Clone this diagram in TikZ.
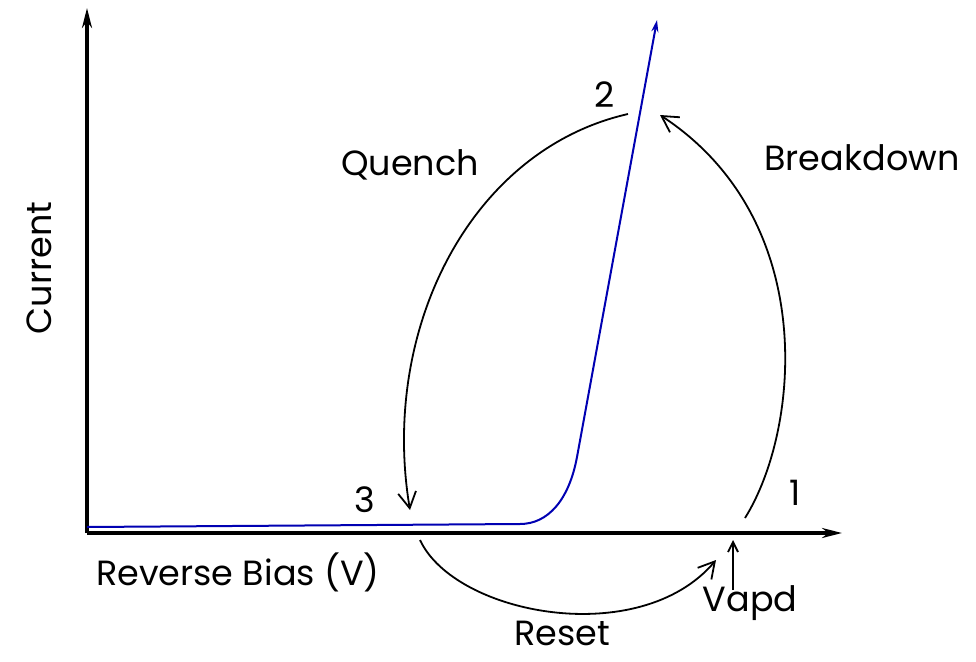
\documentclass[tikz,border=0pt]{standalone}
\usepackage{fontspec}
\setmainfont{Poppins}
\usetikzlibrary{arrows.meta}
\begin{document}
\begin{tikzpicture}[x=1pt,y=-1pt,
  axis/.style={line width=3.2pt,-{Stealth[length=20,width=10]}},
  cyc/.style={line width=1.8pt,-{Straight Barb[length=16,width=18,line width=1.8pt]}},
  lbl/.style={font=\fontsize{35}{37}\selectfont,inner sep=0pt}]
\useasboundingbox (0,0) rectangle (976,661);
\coordinate (O) at (87,533);
\coordinate (ytop) at (87,8);
\coordinate (xend) at (842,533);
\draw[axis] (O) -- (xend);
\draw[axis] (O) -- (ytop);
% blue IV curve
\coordinate (b0) at (87,527);
\coordinate (b1) at (520,524);
\coordinate (b2) at (577,457);
\coordinate (b3) at (657,20);
\draw[line width=2pt,blue!70!black,-{Stealth[length=12,width=7]}]
  (b0) -- (b1) .. controls (548,524) and (569,500) .. (b2) -- (b3);
% labels
\node[lbl,rotate=90] (cur) at (39,268) {Current};
\node[lbl] (quench) at (410,165) {Quench};
\node[lbl] (brk) at (862,158) {Breakdown};
\node[lbl] (p2) at (605,95) {2};
\node[lbl] (p3) at (365,500) {3};
\node[lbl] (p1) at (795,493) {1};
\node[lbl] (rb) at (238,572) {Reverse Bias (V)};
\node[lbl] (reset) at (562,633) {Reset};
\node[lbl] (vapd) at (750,603) {Vapd};
% cycle arrows
\coordinate (q0) at (628,114);
\coordinate (q1) at (410,510);
\draw[cyc] (q0) .. controls (470,150) and (380,330) .. (q1);
\coordinate (k0) at (745,518);
\coordinate (k1) at (660,115);
\draw[cyc] (k0) .. controls (800,430) and (820,220) .. (k1);
\coordinate (r0) at (420,540);
\coordinate (r1) at (716,560);
\draw[cyc] (r0) .. controls (455,615) and (640,650) .. (r1);
\coordinate (v0) at (733,590);
\coordinate (v1) at (733,540);
\draw[line width=2pt,-{Straight Barb[length=10,width=10,line width=1.8pt]}] (v0) -- (v1);
\end{tikzpicture}
\end{document}
